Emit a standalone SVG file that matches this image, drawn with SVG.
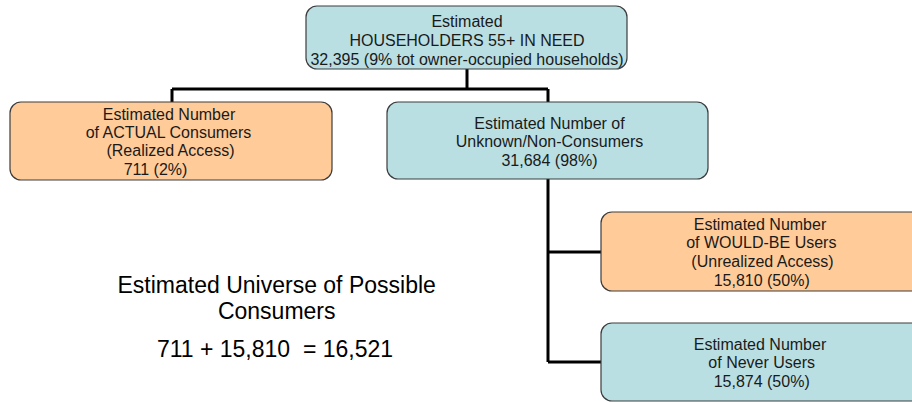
<svg xmlns="http://www.w3.org/2000/svg" width="912" height="402" viewBox="0 0 912 402">
<style>
.box{stroke:#3c3c3c;stroke-width:1.2}
.teal{fill:#B9DFE3}
.orange{fill:#FFCC99}
.t{font-family:"Liberation Sans",Arial,sans-serif;font-size:16px;fill:#1a1a1a;text-anchor:middle}
.big{font-family:"Liberation Sans",Arial,sans-serif;font-size:23px;fill:#000;text-anchor:middle}
.c{stroke:#000;stroke-width:3;fill:none}
</style>
<rect width="912" height="402" fill="#fff"/>
<g id="connectors">
<path class="c" d="M467 69V89M172 89H548M172 89V102M548 89V102M548 179V362M548 252H601M548 362H601"/>
</g>
<g id="top">
<rect class="box teal" x="306" y="6" width="321" height="63" rx="11"/>
<text class="t" x="467" y="27">Estimated</text>
<text class="t" x="467" y="46">HOUSEHOLDERS 55+ IN NEED</text>
<text class="t" x="467" y="64.5">32,395 (9% tot owner-occupied households)</text>
</g>
<g id="actual">
<rect class="box orange" x="10" y="102" width="322" height="78" rx="11"/>
<text class="t" x="169" y="119.5">Estimated Number</text>
<text class="t" x="168.5" y="137.8">of ACTUAL Consumers</text>
<text class="t" x="170.5" y="156">(Realized Access)</text>
<text class="t" x="155.5" y="174.5">711 (2%)</text>
</g>
<g id="unknown">
<rect class="box teal" x="387" y="102" width="321" height="77" rx="11"/>
<text class="t" x="549.5" y="128.5">Estimated Number of</text>
<text class="t" x="549.5" y="147">Unknown/Non-Consumers</text>
<text class="t" x="549.5" y="165.5">31,684 (98%)</text>
</g>
<g id="wouldbe">
<rect class="box orange" x="601" y="212" width="330" height="79" rx="11"/>
<text class="t" x="760" y="229.5">Estimated Number</text>
<text class="t" x="761.3" y="248">of WOULD-BE Users</text>
<text class="t" x="762.5" y="266.5">(Unrealized Access)</text>
<text class="t" x="761.7" y="285.5">15,810 (50%)</text>
</g>
<g id="never">
<rect class="box teal" x="601" y="323" width="330" height="78" rx="11"/>
<text class="t" x="760" y="349.5">Estimated Number</text>
<text class="t" x="761.7" y="368">of Never Users</text>
<text class="t" x="761.7" y="386.5">15,874 (50%)</text>
</g>
<g id="universe">
<text class="big" x="276.7" y="293">Estimated Universe of Possible</text>
<text class="big" x="276.7" y="319">Consumers</text>
<text class="big" x="275" y="357" xml:space="preserve">711 + 15,810  = 16,521</text>
</g>
</svg>
